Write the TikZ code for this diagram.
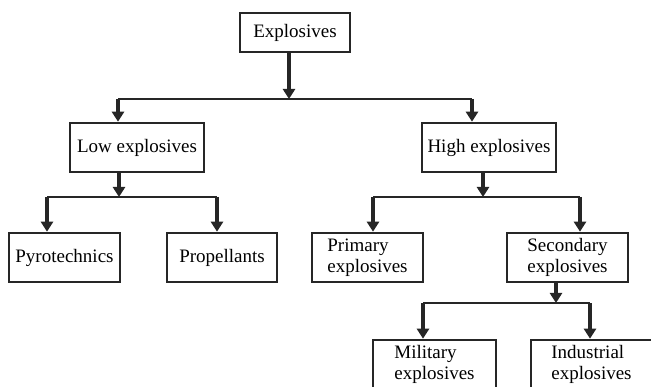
\documentclass[tikz,border=0pt]{standalone}
\usepackage{fontspec}
\setmainfont{Liberation Serif}
\usetikzlibrary{arrows.meta}

\begin{document}
\begin{tikzpicture}[
        x=1pt, y=1pt,
        font=\fontsize{19}{21}\selectfont,
        cls/.style={draw=black!85, line width=2.6pt, fill=white, align=left,
                    inner sep=0pt, minimum height=49pt},
        arr/.style={-{Triangle[length=10pt,width=12pt]}, line width=3.4pt, draw=black!85},
        bar/.style={line width=2.2pt, draw=black!85}
      ]
        \useasboundingbox (0,0) rectangle (651,386);
        \clip (0,0) rectangle (651,386);
        % top and second level
        \node[cls, minimum width=110pt, minimum height=39pt] (root) at (295,353.5) {Explosives};
        \node[cls, minimum width=134pt] (low)  at (137,238.5) {Low explosives};
        \node[cls, minimum width=134pt] (high) at (489,238.5) {High explosives};
        % third level
        \node[cls, minimum width=111pt] (pyro) at (64.5,128.5)  {Pyrotechnics};
        \node[cls, minimum width=110pt] (prop) at (222,128.5)   {Propellants};
        \node[cls, minimum width=111pt] (prim) at (367.5,128.5) {Primary\\explosives};
        \node[cls, minimum width=121pt] (sec)  at (567.5,128.5) {Secondary\\explosives};
        % bottom level (cut off by the frame)
        \node[cls, minimum width=123pt] (mil) at (434.5,21.5) {Military\\explosives};
        \node[cls, minimum width=121pt] (ind) at (591.5,21.5) {Industrial\\explosives};
        % junction bars
        \coordinate (b0) at (289,287); \coordinate (b0-l) at (118,287); \coordinate (b0-r) at (472,287);
        \coordinate (b1) at (119,189); \coordinate (b1-l) at (47,189);  \coordinate (b1-r) at (217,189);
        \coordinate (b2) at (483,189); \coordinate (b2-l) at (373,189); \coordinate (b2-r) at (580,189);
        \coordinate (b3) at (556,83);  \coordinate (b3-l) at (423,83);  \coordinate (b3-r) at (590,83);
        \foreach \p/\b/\l/\r in {root/b0/low/high, low/b1/pyro/prop, high/b2/prim/sec, sec/b3/mil/ind} {
          \draw[bar] (\b-l) -- (\b-r);
          \draw[arr] (\p.south -| \b) -- (\b);
          \draw[arr] (\b-l) -- (\l.north -| \b-l);
          \draw[arr] (\b-r) -- (\r.north -| \b-r);
        }
      \end{tikzpicture}
\end{document}
